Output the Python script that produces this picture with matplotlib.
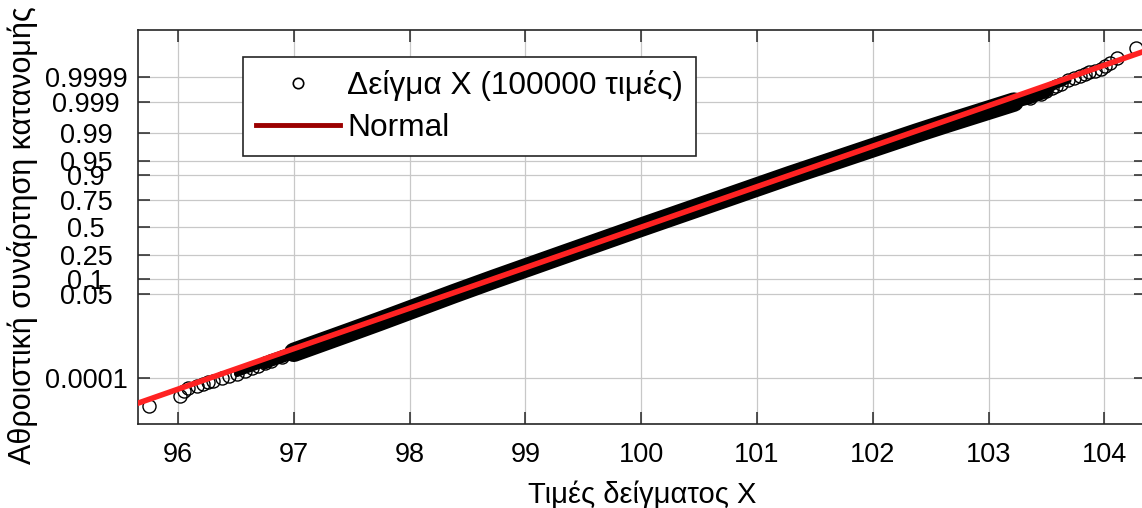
import matplotlib
matplotlib.use("Agg")
import matplotlib.pyplot as plt
from matplotlib.lines import Line2D
from statistics import NormalDist

# ---------------- data ----------------
n_samples = 100000
# individually visible lower-tail points: rank (1 = smallest) and value
low_tail_ranks = [1, 2, 3, 4, 5, 6, 7, 8, 10, 12, 15, 20, 25, 30, 40, 50, 70, 100]
low_tail_values = [95.75, 96.02, 96.05, 96.09, 96.16, 96.22, 96.26, 96.30,
                   96.38, 96.44, 96.51, 96.58, 96.64, 96.69, 96.75, 96.80,
                   96.90, 97.00]
# upper-tail points: rank counted from the top (1 = largest)
high_tail_ranks = [1, 2, 3, 4, 5, 6, 7, 8, 10, 12, 15, 20, 25, 30, 40, 50, 70, 100]
high_tail_values = [104.27, 104.11, 104.05, 104.01, 103.97, 103.92, 103.87,
                    103.83, 103.79, 103.74, 103.69, 103.63, 103.58, 103.55,
                    103.50, 103.45, 103.36, 103.22]
# dense central band: cumulative probability and sample quantile
band_probs = [0.001, 0.005, 0.01, 0.05, 0.1, 0.25, 0.5, 0.75, 0.9,
              0.95, 0.99, 0.995, 0.999]
band_values = [97.00, 97.50, 97.74, 98.38, 98.73, 99.33, 100.00,
               100.68, 101.29, 101.67, 102.38, 102.65, 103.22]
# fitted normal
fit_mu = 100.0
fit_sigma = 1.0

y_tick_probs = [0.0001, 0.05, 0.1, 0.25, 0.5, 0.75, 0.9, 0.95, 0.99, 0.999, 0.9999]
y_tick_labels = ["0.0001", "0.05", "0.1", "0.25", "0.5", "0.75", "0.9", "0.95",
                 "0.99", "0.999", "0.9999"]
x_ticks = [96, 97, 98, 99, 100, 101, 102, 103, 104]

legend_sample = "Δείγμα X (100000 τιμές)"
legend_fit = "Normal"
xlabel = "Τιμές δείγματος X"
ylabel = "Αθροιστική συνάρτηση κατανομής"

# ---------------- plotting ----------------
probit = NormalDist().inv_cdf

plt.rcParams['font.family'] = ['Liberation Sans', 'DejaVu Sans']

W, H = 1142, 508
fig = plt.figure(figsize=(W / 100, H / 100), dpi=100)
left_px, right_px, top_px, bot_px = 137.7, 1146, 30, 424
aw, ah = right_px - left_px, bot_px - top_px
ax = fig.add_axes([left_px / W, 1 - bot_px / H, aw / W, ah / H])

ax.set_xlim(95.652, 104.36)
ax.set_ylim(-4.86, 4.87)

ax.set_xticks(x_ticks)
ax.set_xticklabels([str(t) for t in x_ticks])
ax.set_yticks([probit(p) for p in y_tick_probs])
ax.set_yticklabels(y_tick_labels)
ax.grid(True, color='#c8c8c8', linewidth=0.9)
ax.set_axisbelow(True)

low_z = [probit((r - 0.5) / n_samples) for r in low_tail_ranks]
high_z = [probit(1 - (r - 0.5) / n_samples) for r in high_tail_ranks]
band_z = [probit(p) for p in band_probs]

# where circles start to overlap densely draw narrower dark strokes
for xs, zs, ranks in ((low_tail_values, low_z, low_tail_ranks),
                      (high_tail_values, high_z, high_tail_ranks)):
    sel = [i for i, r in enumerate(ranks) if r >= 15]
    ax.plot([xs[i] for i in sel], [zs[i] for i in sel], color='black',
            linewidth=4.5, solid_capstyle='round', zorder=3)
    sel2 = [i for i, r in enumerate(ranks) if r >= 40]
    ax.plot([xs[i] for i in sel2], [zs[i] for i in sel2], color='black',
            linewidth=9.0, solid_capstyle='round', zorder=3)

# dense band of overlapping circles
ax.plot(band_values, band_z, color='black', linewidth=14.0,
        solid_capstyle='round', solid_joinstyle='round', zorder=3)

# individual circles
for xs, zs in ((low_tail_values, low_z), (high_tail_values, high_z)):
    ax.plot(xs, zs, linestyle='none', marker='o', markersize=9.4,
            markerfacecolor='none', markeredgecolor='black',
            markeredgewidth=1.0, zorder=4)

# fitted normal line
xl = ax.get_xlim()
ax.plot(list(xl), [(v - fit_mu) / fit_sigma for v in xl], color='#ff2222',
        linewidth=4.0, zorder=5)

for s in ax.spines.values():
    s.set_linewidth(1.2)
    s.set_color('#262626')
ax.tick_params(axis='both', direction='in', length=8.6, width=1.1,
               color='#262626', top=True, right=True, labelsize=19.5,
               labelcolor='black')
ax.tick_params(axis='x', pad=13)
ax.tick_params(axis='y', pad=37)
for lab in ax.get_yticklabels():
    lab.set_horizontalalignment('center')

ax.set_xlabel(xlabel, fontsize=21, labelpad=9)
ax.set_ylabel(ylabel, fontsize=22)
ax.yaxis.set_label_coords((38 - left_px) / aw, (bot_px - 235) / ah)

handles = [Line2D([], [], linestyle='none', marker='o', markersize=7.5,
                  markerfacecolor='none', markeredgecolor='black',
                  markeredgewidth=1.2),
           Line2D([], [], color='#9b0000', linewidth=3.5)]
leg = ax.legend(handles, [legend_sample, legend_fit], loc='upper left',
                bbox_to_anchor=((243 - left_px) / aw, (bot_px - 57) / ah),
                borderaxespad=0, fontsize=22.8, frameon=True, fancybox=False,
                edgecolor='#262626', framealpha=1, handlelength=2.65,
                handletextpad=0.22, labelspacing=0.37, borderpad=0.42)
leg.get_frame().set_linewidth(1.2)
leg.set_zorder(10)

fig.savefig("out.png", dpi=100)
